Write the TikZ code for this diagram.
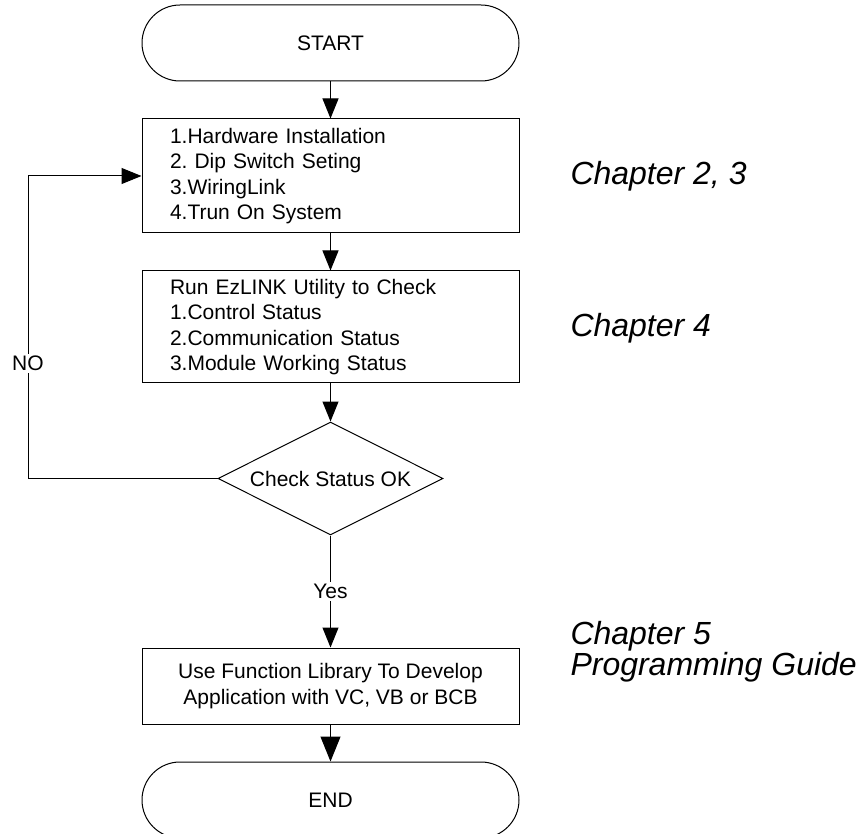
\documentclass[tikz,border=0pt]{standalone}
\usepackage{fontspec}
\setmainfont{Liberation Sans}
\frenchspacing
\usetikzlibrary{shapes.geometric,arrows.meta}
\begin{document}
\begin{tikzpicture}[x=1pt,y=-1pt,
  line width=1pt,
  every node/.style={font=\fontsize{21}{25.5}\selectfont},
  pill/.style={draw, rectangle, rounded corners=38pt, minimum width=377pt, minimum height=76pt, inner sep=0pt},
  procbox/.style={draw, rectangle, minimum width=377pt, inner xsep=28pt, inner ysep=0pt, text width=321pt, align=left},
  cbox/.style={draw, rectangle, minimum width=377pt, minimum height=76pt, inner sep=0pt, align=center},
  decision/.style={draw, diamond, minimum width=225pt, minimum height=113pt, inner sep=0pt, aspect=2},
  flow/.style={-{Triangle[length=20pt,width=16pt]}},
  bigflow/.style={-{Triangle[length=25pt,width=20pt]}},
  lbl/.style={fill=white, inner sep=2pt},
  chap/.style={font=\fontsize{32}{26}\selectfont\itshape, anchor=base west, inner sep=0pt, align=left}
]
\useasboundingbox (0,0) rectangle (860,834);
\clip (0,0) rectangle (860,834);

\node[pill] (start) at (330.5,43) {START};
\node[procbox, minimum height=114pt] (b1) at (330.5,176) {1.Hardware Installation\\2. Dip Switch Seting\\3.WiringLink\\4.Trun On System};
\node[procbox, minimum height=112pt] (b2) at (330.5,327) {Run EzLINK Utility to Check\\1.Control Status\\2.Communication Status\\3.Module Working Status};
\node[decision] (dia) at (330.5,478.5) {Check Status OK};
\node[cbox] (b3) at (330.5,686) {Use Function Library To Develop\\Application with VC, VB or BCB};
\node[pill] (end) at (330.5,800) {END};

\coordinate (loop) at (28,478.5);

\draw[flow] (start) -- (b1);
\draw[flow] (b1) -- (b2);
\draw[flow] (b2) -- (dia);
\draw[flow] (dia.west) -- (loop) |- node[lbl, pos=0.19] {NO} (b1.west);
\draw[flow] (dia) -- node[lbl, pos=0.5] {Yes} (b3);
\draw[bigflow] (b3) -- (end);

\node[chap] (c1) at (570,185) {Chapter 2, 3};
\node[chap] (c2) at (570,337) {Chapter 4};
\node[chap] (c3) at (570,675) {Chapter 5\\Programming Guide};
\end{tikzpicture}
\end{document}
